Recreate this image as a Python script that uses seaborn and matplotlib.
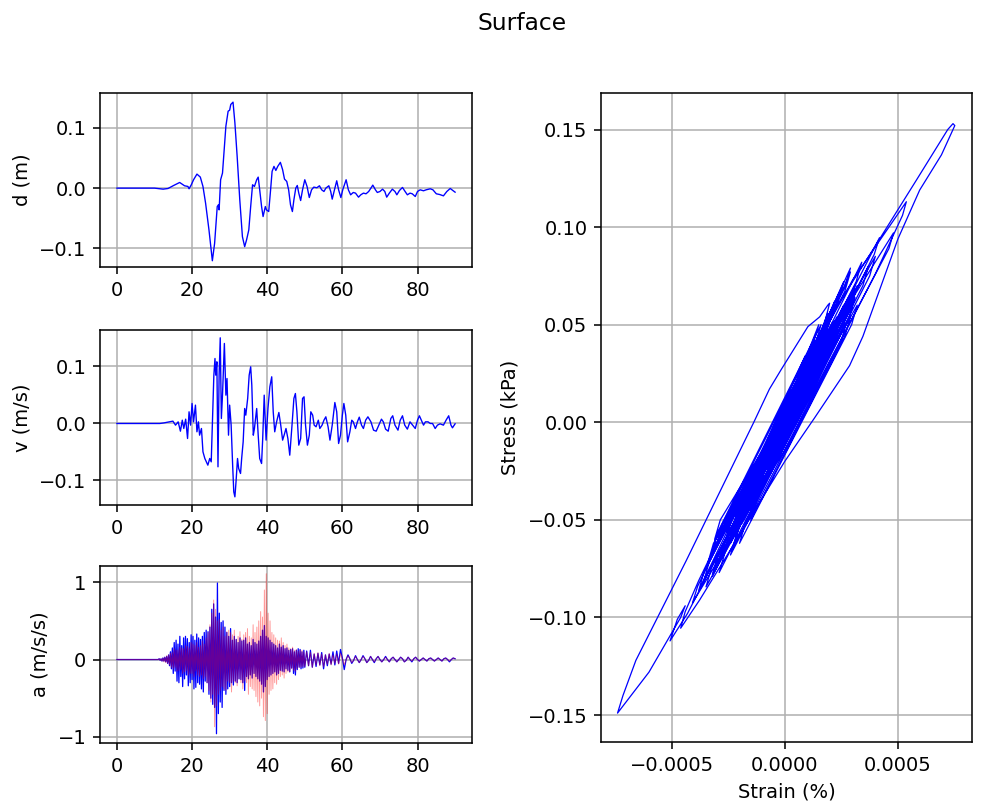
import numpy as np
import pandas as pd
import matplotlib
matplotlib.use("Agg")
import matplotlib.pyplot as plt
import seaborn as sns

# ---------------- data ----------------
d_t = [0, 10, 12.3, 13.6, 15.1, 16.7, 18.0, 18.9, 19.2, 19.8, 20.4, 21.3, 22.2, 22.9, 23.6, 24.5,
       25.4, 26.0, 26.7, 27.0, 27.2, 27.6, 28.1, 29.0, 29.6, 30.0, 30.3, 30.9, 31.4, 32.0, 32.7,
       33.4, 34.0, 34.5, 35.1, 35.6, 36.1, 36.6, 37.2, 37.6, 38.0, 38.5, 38.9, 39.5, 39.8, 40.4,
       40.9, 41.3, 41.8, 42.3, 42.8, 43.5, 44.1, 44.6, 45.2, 45.7, 46.2, 46.7, 47.1, 47.6, 48.0,
       48.4, 48.9, 49.4, 50.0, 50.6, 51.2, 51.8, 52.4, 53.2, 53.9, 54.5, 55.1, 55.6, 56.4, 56.9,
       57.3, 57.9, 58.5, 59.0, 59.6, 60.1, 61.0, 61.6, 62.2, 62.9, 63.5, 64.3, 64.9, 65.6, 66.3,
       67.0, 67.6, 68.1, 68.8, 69.3, 70.0, 70.7, 71.3, 71.8, 72.5, 73.3, 74.0, 74.5, 75.2, 76.0,
       76.7, 77.3, 78.0, 78.6, 79.4, 80.0, 80.7, 81.6, 82.3, 83.4, 84.1, 85.0, 85.9, 86.9, 87.8,
       88.7, 89.4, 90.0]
d_val = [0.0, 0.0, -0.0017, -0.0006, 0.0044, 0.0094, 0.0039, 0.0028, -0.0011, 0.0056, 0.0139,
         0.0233, 0.0183, 0.0028, -0.025, -0.0694, -0.1206, -0.0917, -0.0306, -0.0278, -0.0361,
         0.0139, 0.025, 0.1028, 0.1278, 0.1294, 0.1389, 0.1428, 0.1083, 0.0528, -0.0194, -0.0806,
         -0.0972, -0.0861, -0.0694, -0.0306, 0.0056, 0.0028, 0.0139, 0.0183, -0.0028, -0.0306,
         -0.0472, -0.0306, -0.0361, -0.0389, -0.0028, 0.0278, 0.0361, 0.0294, 0.0361, 0.0428,
         0.0306, 0.015, 0.0111, -0.0028, -0.0278, -0.0389, -0.0194, 0.0, 0.0044, -0.0083, -0.0206,
         -0.0028, 0.0139, 0.0028, -0.0156, -0.0028, 0.0017, 0.0006, 0.0039, -0.0028, -0.0056, 0.0,
         0.0039, -0.0056, -0.0183, -0.0028, 0.0122, -0.0028, -0.0156, -0.0028, 0.0139, -0.0028,
         -0.0111, -0.0072, -0.0083, -0.015, -0.0111, -0.0083, -0.0094, -0.0056, 0.0, 0.005,
         -0.0028, -0.0072, -0.0056, -0.0017, -0.0056, -0.015, -0.0083, -0.0017, -0.0056, -0.0111,
         -0.0039, 0.0011, -0.0056, -0.0111, -0.0083, -0.0094, -0.0139, -0.0056, -0.0028, -0.0044,
         -0.0028, -0.0011, -0.0028, -0.0094, -0.0106, -0.0128, -0.0056, -0.0006, -0.0039, -0.0067]

v_t = [0, 11.4, 12.5, 14.0, 14.9, 15.6, 16.3, 16.9, 17.4, 17.8, 18.3, 18.8, 19.2, 19.6, 20.0, 20.4,
       20.9, 21.3, 21.7, 22.0, 22.5, 22.9, 23.4, 23.8, 24.2, 24.7, 25.1, 25.4, 25.8, 26.1, 26.3,
       26.6, 26.9, 27.2, 27.5, 27.8, 28.1, 28.6, 29.0, 29.3, 29.7, 30.0, 30.4, 30.8, 31.1, 31.4,
       31.7, 32.1, 32.4, 32.9, 33.2, 33.6, 34.0, 34.3, 34.8, 35.2, 35.6, 35.9, 36.3, 36.6, 37.2,
       37.6, 38.0, 38.5, 38.8, 39.2, 39.5, 39.7, 40.2, 40.7, 41.2, 41.6, 42.0, 42.5, 43.1, 43.6,
       44.1, 44.5, 45.0, 45.5, 46.0, 46.6, 47.1, 47.5, 47.9, 48.4, 48.9, 49.4, 49.8, 50.2, 50.7,
       51.2, 51.6, 52.1, 52.5, 53.0, 53.6, 54.0, 54.6, 55.1, 55.6, 56.2, 56.7, 57.3, 58.0, 58.5,
       59.0, 59.5, 60.0, 60.4, 60.9, 61.4, 62.0, 62.5, 62.9, 63.5, 64.0, 64.5, 65.1, 65.6, 66.2,
       66.8, 67.6, 68.3, 69.0, 69.7, 70.4, 70.9, 71.5, 72.2, 72.9, 73.4, 74.0, 74.8, 75.4, 76.0,
       76.6, 77.3, 78.0, 78.7, 79.4, 80.0, 80.5, 81.2, 81.6, 82.1, 82.8, 83.4, 84.0, 84.7, 85.3,
       86.0, 86.9, 87.6, 88.3, 88.9, 89.3, 90.0]
v_val = [0.0, 0.0, 0.001, 0.0029, 0.0041, -0.0029, 0.0029, -0.0135, 0.0058, -0.0088, 0.0076,
         -0.0263, 0.0205, -0.0029, 0.0351, 0.0029, 0.0322, -0.0146, 0.0029, -0.0205, -0.0088,
         -0.0497, -0.0614, -0.0673, -0.0731, -0.0614, -0.0673, -0.0029, 0.0848, 0.114, 0.0848,
         0.1082, -0.076, 0.0848, 0.1503, 0.0088, 0.0497, 0.1404, 0.0497, 0.0789, -0.0205, 0.0322,
         -0.0029, -0.0731, -0.1199, -0.1287, -0.1023, -0.0614, -0.0789, -0.0877, -0.0614, -0.0322,
         0.0263, 0.0146, 0.0439, 0.0848, 0.0994, 0.0673, -0.0205, -0.0088, 0.0263, -0.0205, -0.0614,
         -0.0702, -0.0263, 0.0497, 0.0029, -0.0292, 0.0263, 0.0643, 0.0819, 0.0205, -0.0146, 0.0029,
         0.0193, -0.0029, -0.0292, -0.0205, -0.0088, -0.0263, -0.0556, -0.0029, 0.0439, 0.0526,
         0.0205, -0.038, -0.0263, 0.0439, 0.0468, -0.0029, -0.038, -0.0205, 0.0205, 0.0146, -0.0029,
         -0.0058, 0.0058, -0.0088, -0.0029, 0.0058, 0.0117, -0.0058, -0.0292, -0.0029, 0.0368,
         0.0205, -0.0351, -0.0205, 0.0146, 0.0351, 0.0146, -0.0322, -0.0146, 0.0058, 0.0029, -0.0088,
         0.0029, 0.0111, -0.0029, -0.0088, 0.0058, 0.0117, 0.0029, -0.0117, -0.0135, -0.0029, 0.0076,
         0.0029, -0.0099, -0.0135, 0.0088, 0.0135, -0.0029, -0.0117, 0.0058, 0.0135, -0.0029,
         -0.0099, 0.0029, -0.0029, -0.0088, 0.0058, 0.0135, 0.0029, -0.0029, 0.0029, 0.0029, 0.0,
         0.0, -0.0088, -0.0029, -0.0006, -0.0029, 0.0058, 0.0135, -0.0029, -0.0076, -0.0006]

# acceleration sample times: quiet start, 0.25 s samples 11-50 s, 0.5 s samples 50-90 s
a_t = np.concatenate([[0.0], np.arange(11.0, 50.0, 0.25), np.arange(50.0, 90.0, 0.5), [90.0]])

a_surface = [0.0,
    0.0, 0.01, -0.01, 0.01,   -0.02, 0.02, -0.02, 0.03,   -0.03, 0.04, -0.05, 0.06,
    -0.08, 0.10, -0.12, 0.15, -0.18, 0.22, -0.15, 0.25,   -0.28, 0.20, -0.30, 0.30,
    -0.22, 0.18, -0.35, 0.28, -0.25, 0.30, -0.20, 0.27,   -0.34, 0.22, -0.30, 0.32,
    -0.26, 0.30, -0.38, 0.25, -0.36, 0.33, -0.30, 0.28,   -0.32, 0.26, -0.38, 0.30,
    -0.42, 0.35, -0.28, 0.38, -0.30, 0.36, -0.45, 0.42,   -0.50, 0.65, -0.58, 0.72,
    -0.62, 0.55, -0.96, 0.99, -0.70, 0.60, -0.55, 0.48,   -0.62, 0.50, -0.40, 0.42,
    -0.45, 0.35, -0.38, 0.30, -0.35, 0.40, -0.30, 0.25,   -0.33, 0.30, -0.28, 0.26,
    -0.30, 0.22, -0.25, 0.28, -0.26, 0.24, -0.30, 0.25,   -0.40, 0.28, -0.22, 0.20,
    -0.25, 0.22, -0.20, 0.18, -0.24, 0.26, -0.18, 0.22,   -0.22, 0.20, -0.25, 0.24,
    -0.28, 0.30, -0.32, 0.38, -0.42, 0.44, -0.35, 0.30,   -0.26, 0.28, -0.22, 0.25,
    -0.20, 0.22, -0.18, 0.20, -0.16, 0.18, -0.20, 0.15,   -0.18, 0.20, -0.14, 0.16,
    -0.15, 0.18, -0.16, 0.14, -0.12, 0.15, -0.14, 0.12,   -0.16, 0.13, -0.11, 0.14,
    -0.18, 0.10, -0.20, 0.12, -0.13, 0.14, -0.10, 0.13,   -0.12, 0.10, -0.11, 0.12,
    -0.10, 0.11, -0.08, 0.12, -0.10, 0.07, -0.09, 0.08, -0.07, 0.09,
    -0.12, 0.06, -0.08, 0.07, -0.06, 0.10, -0.07, 0.11, -0.05, 0.13,
    0.02, -0.13, 0.00, 0.06, 0.01, -0.05, -0.01, 0.05, 0.00, -0.04,
    0.00, 0.05, 0.01, -0.04, -0.01, 0.04, 0.00, -0.04, 0.01, 0.04,
    0.00, -0.03, 0.00, 0.04, 0.00, -0.03, 0.01, 0.03, 0.00, -0.03,
    0.00, 0.03, 0.01, -0.03, -0.01, 0.03, 0.00, -0.03, 0.01, 0.03,
    0.00, -0.02, 0.00, 0.02, 0.00, -0.02, 0.01, 0.02, 0.00, -0.02,
    0.00, 0.02, 0.00, -0.02, 0.01, 0.02, 0.00, -0.03, 0.00, 0.02,
    0.01]

a_input = [0.0,
    0.0, 0.01, -0.01, 0.01,   -0.02, 0.02, -0.03, 0.03,   -0.04, 0.05, -0.05, 0.06,
    -0.07, 0.08, -0.10, 0.09, -0.12, 0.14, -0.10, 0.12,   -0.15, 0.12, -0.14, 0.16,
    -0.13, 0.15, -0.18, 0.14, -0.16, 0.18, -0.14, 0.17,   -0.20, 0.15, -0.18, 0.22,
    -0.18, 0.20, -0.22, 0.18, -0.15, 0.22, -0.20, 0.16,   -0.22, 0.18, -0.20, 0.24,
    -0.25, 0.20, -0.22, 0.28, -0.30, 0.35, -0.40, 0.45,   -0.55, 0.60, -0.45, 0.77,
    -0.87, 0.65, -0.60, 0.50, -0.45, 0.52, -0.40, 0.38,   -0.35, 0.42, -0.38, 0.30,
    -0.40, 0.36, -0.28, 0.38, -0.30, 0.35, -0.42, 0.32,   -0.28, 0.38, -0.30, 0.26,
    -0.34, 0.30, -0.25, 0.36, -0.30, 0.26, -0.38, 0.32,   -0.28, 0.35, -0.30, 0.40,
    -0.45, 0.30, -0.35, 0.28, -0.38, 0.45, -0.40, 0.35,   -0.48, 0.42, -0.55, 0.50,
    -0.60, 0.62, -0.50, 0.55, -0.74, 0.90, -0.79, 1.11,   -0.70, 0.60, -0.45, 0.50,
    -0.40, 0.35, -0.38, 0.32, -0.30, 0.28, -0.32, 0.25,   -0.26, 0.24, -0.22, 0.28,
    -0.20, 0.22, -0.24, 0.18, -0.18, 0.20, -0.16, 0.15,   -0.16, 0.14, -0.12, 0.16,
    -0.14, 0.12, -0.15, 0.13, -0.12, 0.11, -0.10, 0.12,   -0.10, 0.12, -0.09, 0.10,
    -0.09, 0.10, -0.08, 0.09, -0.10, 0.08, -0.07, 0.09, -0.08, 0.07,
    -0.09, 0.06, -0.06, 0.08, -0.07, 0.06, -0.05, 0.07, -0.06, 0.08,
    0.01, -0.07, 0.00, 0.05, 0.01, -0.04, -0.01, 0.04, 0.00, -0.04,
    0.00, 0.04, 0.01, -0.04, -0.01, 0.04, 0.00, -0.03, 0.01, 0.04,
    0.00, -0.03, 0.00, 0.03, 0.00, -0.03, 0.01, 0.03, 0.00, -0.03,
    0.00, 0.03, 0.01, -0.03, -0.01, 0.03, 0.00, -0.02, 0.01, 0.03,
    0.00, -0.02, 0.00, 0.02, 0.00, -0.02, 0.01, 0.02, 0.00, -0.02,
    0.00, 0.02, 0.00, -0.02, 0.01, 0.02, 0.00, -0.02, 0.00, 0.02,
    0.01]

# stress-strain path (strain in units of 1e-4 %, stress in kPa), in time order
strain_e4 = [0.00, 0.30, 0.10, -0.40, -0.20, 0.60, 0.40, -0.70, -0.45, 1.00, 0.75, -1.20, -0.95,
    1.50, 1.25, -1.00, -0.75, 2.10, 1.85, -1.80, -1.55, 1.30, 1.05, -2.60, -2.35, 0.80, 0.55,
    -4.30, -5.07, -4.75, -4.40, -4.60, -6.00, -7.39, -7.15, -6.58, -4.36, -1.37, -0.68, -0.16,
    1.02, 1.54, 1.90, 1.98, 1.76, 1.20, -2.20, -1.95, -1.00, 1.50, 3.60, 5.81, 7.20, 7.43, 7.51,
    6.92, 5.96, 5.00, 3.45, 2.86, 1.30, 0.00, -3.76, -4.60, -4.40, -3.80, 0.00, 3.00, 5.37, 5.20,
    4.00, 0.00, -4.08, -3.85, 0.00, 4.80, 4.60, 0.00, -3.48, -3.25, 4.18, 3.95, -3.20, -2.95,
    3.40, 3.15, -3.60, -3.35,   2.40, 2.15, -2.70, -2.45,   3.70, 3.45, -2.40, -2.15,
    2.60, 2.35, -3.80, -3.55,   3.20, 2.95, -2.20, -1.95,   2.20, 1.95, -3.00, -2.75,
    3.00, 2.75, -1.90, -1.65,   1.80, 1.55, -2.80, -2.55,   2.60, 2.35, -2.00, -1.75,
    1.70, 1.45, -2.40, -2.15,   2.50, 2.25, -1.20, -0.95,   1.30, 1.05, -2.00, -1.75,
    2.30, 2.05, -1.60, -1.35,   0.90, 0.65, -1.60, -1.35,
    3.20, 2.95, -2.00, -1.75,   2.70, 2.45, -2.40, -2.15,   2.20, 1.95, -3.20, -2.95,
    1.60, 1.35, -3.40, -3.15,   2.90, 2.65, -1.50, -1.25,   1.90, 1.65, -2.80, -2.55,
    4.00, 3.75, -2.90, -2.65,   2.90, 2.65, -3.30, -3.05,   3.10, 2.85, -3.20, -2.95,
    2.90, 2.65, -3.00, -2.75,   3.10, 2.85, -2.30, -2.05,   2.10, 1.85, -2.60, -2.35,
    3.10, 2.85, -1.80, -1.55,   1.50, 1.25, -3.10, -2.85,   2.80, 2.55, -1.50, -1.25,
    1.50, 1.25, -2.50, -2.25,   2.20, 1.95, -1.50, -1.30,   1.20, 1.00, -2.30, -2.10,
    2.20, 2.00, -1.10, -0.90,   1.20, 1.00, -1.80, -1.60,   2.10, 1.90, -0.80, -0.60,
    0.90, 0.70, -1.70, -1.50,   1.60, 1.40, -0.80, -0.60,   0.80, 0.60, -1.40, -1.20,
    1.50, 1.30, -0.50, -0.32,   0.70, 0.52, -1.10, -0.92,   1.20, 1.02, -0.50, -0.32,
    0.50, 0.32, -1.00, -0.82,   0.90, 0.72, -0.40, -0.25,   0.40, 0.25, -0.70, -0.55,
    0.70, 0.55, -0.30, -0.18,   0.40, 0.28, -0.50, -0.38,   0.50, 0.38, -0.30, -0.20,
    0.30, 0.20, -0.30, -0.20,   0.10]
stress_kpa = [0.000, 0.008, 0.002, -0.009, -0.003, 0.015, 0.008, -0.016, -0.008, 0.025, 0.016,
    -0.028, -0.018, 0.036, 0.027, -0.022, -0.013, 0.051, 0.041, -0.042, -0.032, 0.032, 0.022,
    -0.060, -0.050, 0.022, 0.012, -0.098, -0.112, -0.101, -0.094, -0.100, -0.128, -0.149, -0.140,
    -0.122, -0.071, 0.000, 0.017, 0.027, 0.049, 0.054, 0.060, 0.061, 0.051, 0.036, -0.050, -0.040,
    -0.015, 0.045, 0.083, 0.124, 0.150, 0.153, 0.152, 0.137, 0.119, 0.094, 0.044, 0.029, 0.002,
    -0.020, -0.091, -0.1055, -0.097, -0.081, 0.010, 0.073, 0.113, 0.106, 0.076, -0.014, -0.0926,
    -0.084, 0.008, 0.097, 0.089, -0.012, -0.0843, -0.075, 0.0945, 0.086, -0.078, -0.068,
    0.082, 0.072, -0.082, -0.072,   0.066, 0.056, -0.067, -0.057,   0.080, 0.070, -0.062, -0.052,
    0.072, 0.062, -0.086, -0.076,   0.070, 0.060, -0.058, -0.048,   0.060, 0.050, -0.074, -0.064,
    0.066, 0.056, -0.052, -0.042,   0.052, 0.042, -0.068, -0.058,   0.060, 0.050, -0.044, -0.034,
    0.047, 0.037, -0.058, -0.048,   0.055, 0.045, -0.036, -0.026,   0.042, 0.032, -0.050, -0.040,
    0.054, 0.044, -0.034, -0.024,   0.034, 0.024, -0.044, -0.034,
    0.060, 0.050, -0.062, -0.052,   0.050, 0.040, -0.068, -0.058,   0.062, 0.052, -0.066, -0.056,
    0.050, 0.040, -0.072, -0.062,   0.054, 0.044, -0.050, -0.040,   0.056, 0.046, -0.058, -0.048,
    0.085, 0.075, -0.077, -0.067,   0.077, 0.067, -0.070, -0.060,   0.070, 0.060, -0.079, -0.069,
    0.079, 0.069, -0.062, -0.052,   0.064, 0.054, -0.065, -0.055,   0.057, 0.047, -0.056, -0.046,
    0.067, 0.057, -0.050, -0.040,   0.050, 0.040, -0.060, -0.050,   0.058, 0.048, -0.045, -0.035,
    0.045, 0.035, -0.052, -0.042,   0.052, 0.042, -0.038, -0.030,   0.040, 0.032, -0.045, -0.037,
    0.047, 0.039, -0.033, -0.025,   0.036, 0.028, -0.038, -0.030,   0.042, 0.034, -0.028, -0.020,
    0.031, 0.023, -0.033, -0.025,   0.035, 0.027, -0.024, -0.016,   0.026, 0.018, -0.028, -0.020,
    0.030, 0.022, -0.019, -0.012,   0.021, 0.014, -0.023, -0.016,   0.025, 0.018, -0.016, -0.009,
    0.018, 0.011, -0.018, -0.011,   0.020, 0.013, -0.012, -0.006,   0.013, 0.007, -0.014, -0.008,
    0.015, 0.009, -0.009, -0.004,   0.010, 0.005, -0.011, -0.006,   0.012, 0.007, -0.007, -0.003,
    0.008, 0.004, -0.006, -0.002,   0.003]

x_ticks_time = [0, 20, 40, 60, 80]

# ---------------- figure ----------------
W, H = 981, 806
DPI = 140
fig = plt.figure(figsize=(W / DPI, H / DPI), dpi=DPI)
plt.rcParams['font.family'] = ['DejaVu Sans']


def box(l, t, r, b):
    return [l / W, 1 - b / H, (r - l) / W, (b - t) / H]


ax_d = fig.add_axes(box(100, 93, 472, 267))
ax_v = fig.add_axes(box(100, 330, 472, 505))
ax_a = fig.add_axes(box(100, 566, 472, 743))
ax_s = fig.add_axes(box(601, 93, 972, 742))

df_d = pd.DataFrame({"t": d_t, "d": d_val})
df_v = pd.DataFrame({"t": v_t, "v": v_val})
df_a = pd.DataFrame({"t": a_t, "surf": a_surface, "inp": a_input})
df_s = pd.DataFrame({"strain": np.array(strain_e4) * 1e-4, "stress": stress_kpa})

sns.lineplot(data=df_d, x="t", y="d", ax=ax_d, color="b", lw=0.7, sort=False, estimator=None)
sns.lineplot(data=df_v, x="t", y="v", ax=ax_v, color="b", lw=0.7, sort=False, estimator=None)
sns.lineplot(data=df_a, x="t", y="surf", ax=ax_a, color="b", lw=0.65, sort=False, estimator=None)
sns.lineplot(data=df_a, x="t", y="inp", ax=ax_a, color="r", lw=0.5, alpha=0.4, sort=False, estimator=None)
sns.lineplot(data=df_s, x="strain", y="stress", ax=ax_s, color="b", lw=0.65, sort=False, estimator=None)

for ax in (ax_d, ax_v, ax_a):
    ax.set_xlim(-4.5, 94.5)
    ax.set_xticks(x_ticks_time)
    ax.set_xlabel("")
    ax.grid(True)

ax_d.set_ylim(-0.131, 0.158)
ax_d.set_yticks([-0.1, 0.0, 0.1])
ax_d.set_ylabel("d (m)")

ax_v.set_ylim(-0.143, 0.164)
ax_v.set_yticks([-0.1, 0.0, 0.1])
ax_v.set_ylabel("v (m/s)")

ax_a.set_ylim(-1.08, 1.21)
ax_a.set_yticks([-1, 0, 1])
ax_a.set_ylabel("a (m/s/s)")

ax_s.set_xlim(-8.12e-4, 8.27e-4)
ax_s.set_ylim(-0.1638, 0.1687)
ax_s.set_xticks([-0.0005, 0.0, 0.0005])
ax_s.set_yticks([-0.15, -0.10, -0.05, 0.0, 0.05, 0.10, 0.15])
ax_s.set_xlabel("Strain (%)")
ax_s.set_ylabel("Stress (kPa)")
ax_s.grid(True)

fig.suptitle("Surface", fontsize=12, x=522 / W, y=0.985)

fig.savefig("out.png", dpi=DPI)
